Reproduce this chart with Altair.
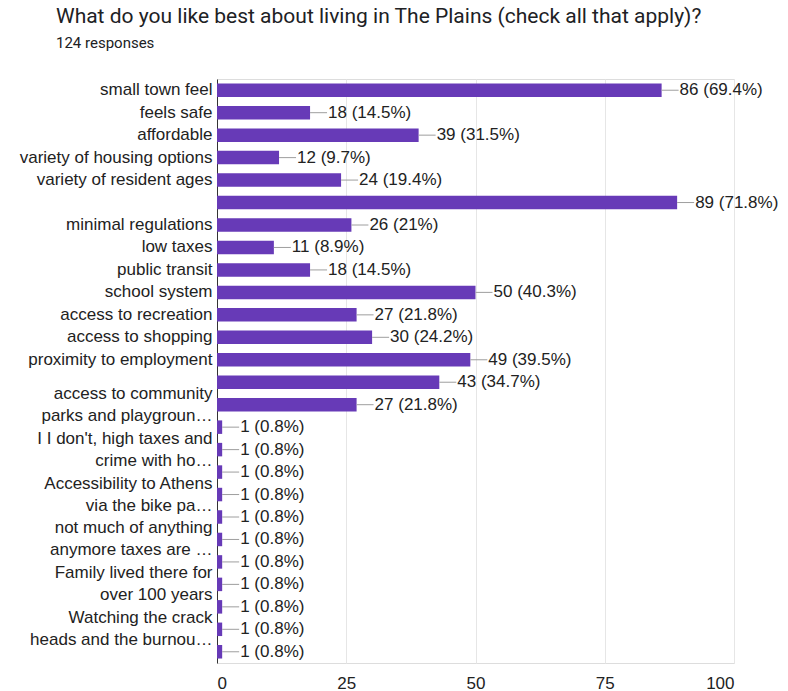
import altair as alt
import pandas as pd

TOTAL = 124

# Axis labels ("|" marks a line break; blank entries are bars whose label is not shown)
labels = [
    "small town feel",
    "feels safe",
    "affordable",
    "variety of housing options",
    "variety of resident ages",
    " ",
    "minimal regulations",
    "low taxes",
    "public transit",
    "school system",
    "access to recreation",
    "access to shopping",
    "proximity to employment",
    "  ",
    "access to community|parks and playgroun…",
    "   ",
    "I I don't, high taxes and|crime with ho…",
    "    ",
    "Accessibility to Athens|via the bike pa…",
    "     ",
    "not much of anything|anymore taxes are …",
    "      ",
    "Family lived there for|over 100 years",
    "       ",
    "Watching the crack|heads and the burnou…",
    "        ",
]
counts = [86, 18, 39, 12, 24, 89, 26, 11, 18, 50, 27, 30, 49, 43, 27,
          1, 1, 1, 1, 1, 1, 1, 1, 1, 1, 1]
x_ticks = [0, 25, 50, 75, 100]


def fmt(c):
    p = round(c / TOTAL * 100, 1)
    s = f"{p:.1f}"
    if s.endswith(".0"):
        s = s[:-2]
    return f"{c} ({s}%)"


df = pd.DataFrame({"label": labels, "count": counts})
df["text"] = [fmt(c) for c in counts]

FONT = "Liberation Sans"
PURPLE = "#673ab7"

y_enc = alt.Y(
    "label:N",
    sort=None,
    title=None,
    axis=alt.Axis(
        labelExpr="split(datum.label, '|')",
        labelOffset={
            "condition": {"test": "indexof(datum.value, '|') >= 0", "value": -11},
            "value": 0,
        },
        labelFont=FONT,
        labelFontSize=17,
        labelColor="#222222",
        labelLimit=300,
        labelLineHeight=22,
        labelPadding=5,
        ticks=False,
        domainColor="#333333",
        domainWidth=1,
        grid=False,
    ),
    scale=alt.Scale(paddingInner=0, paddingOuter=0),
)

x_enc = alt.X(
    "count:Q",
    title=None,
    scale=alt.Scale(domain=[0, 100], nice=False),
    axis=alt.Axis(
        values=x_ticks,
        labelFont=FONT,
        labelFontSize=17,
        labelColor="#222222",
        labelPadding=12,
        ticks=False,
        domain=False,
        gridColor="#e6e6e6",
        gridWidth=1,
    ),
)

base = alt.Chart(df)

bars = base.mark_bar(color=PURPLE, size=13.5).encode(x=x_enc, y=y_enc)

leaders = base.mark_rule(color="#9e9e9e", strokeWidth=1, x2Offset=17).encode(
    x="count:Q", x2="count:Q", y=alt.Y("label:N", sort=None)
)

texts = base.mark_text(
    align="left", baseline="middle", dx=18, font=FONT, fontSize=17, color="#222222"
).encode(x="count:Q", y=alt.Y("label:N", sort=None), text="text:N")

chart = (
    alt.layer(bars, leaders, texts)
    .properties(
        width=517,
        height=584,
        autosize=alt.AutoSizeParams(type="none"),
        padding={"left": 217, "top": 79, "right": 54, "bottom": 28},
        title=alt.TitleParams(
            text="What do you like best about living in The Plains (check all that apply)?",
            subtitle="124 responses",
            anchor="start",
            frame="group",
            dx=-161,
            offset=28,
            font="Roboto",
            fontSize=21,
            fontWeight="normal",
            color="#202124",
            subtitleFont="Roboto",
            subtitleFontSize=15,
            subtitleColor="#202124",
            subtitlePadding=9,
        ),
    )
    .configure_view(stroke="#e6e6e6", strokeWidth=1)
    .configure(background="white")
)

chart.save("out.html", embed_options={"renderer": "svg", "actions": False})
